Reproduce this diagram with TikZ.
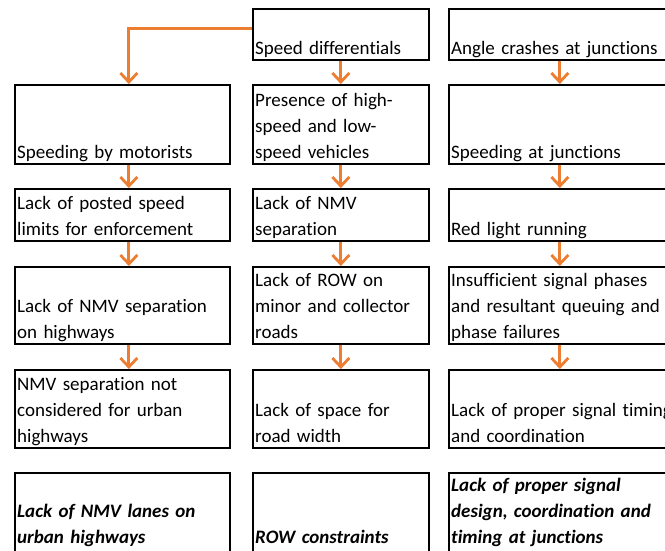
\documentclass[tikz,border=0pt]{standalone}
\usepackage{fontspec}
\setmainfont{Carlito}[Ligatures=NoCommon]
\usetikzlibrary{arrows.meta}

\begin{document}
\begin{tikzpicture}[
    x=1pt, y=-1pt,
    line cap=butt,
    cbox/.style={draw=black, line width=1.7pt, inner sep=0pt, anchor=north west},
    ctext/.style={inner sep=0pt, anchor=south west, text width=300pt, align=left,
        font=\fontsize{19}{25.8}\selectfont},
    flow/.style={draw=Flow, line width=2.8pt, -{Straight Barb[length=9pt,width=17pt]}},
]

\definecolor{Flow}{RGB}{237,125,49}

% ---------- macro: one cause box, text sits on the bottom edge ----------
% #1 = gap under the last baseline (optional), #2 = name, #3 = left x,
% #4 = top y, #5 = width, #6 = height, #7 = text
\newcommand{\cause}[7][6pt]{%
    \node[cbox, minimum width=#5, minimum height=#6] (#2) at (#3,#4) {};
    \node[ctext] (#2-t) at ([shift={(3pt,#1-7.74pt)}]#2.south west) {#7\strut};
}

\useasboundingbox (0,0) rectangle (665,550);
\clip (0,0) rectangle (665,550);

% column 1 : speeding / NMV lanes
\cause{spd}{14}{84}{215}{79}{Speeding by motorists}
\cause{post}{14}{188}{215}{52}{Lack of posted speed\\limits for enforcement}
\cause{nmvh}{14}{266}{215}{77}{Lack of NMV separation\\on highways}
\cause{urb}{14}{369}{215}{78}{NMV separation not\\considered for urban\\highways}
\cause[10pt]{lanes}{14}{472}{215}{80}{\textbf{\textit{Lack of NMV lanes on\\urban highways}}}

% column 2 : speed differentials / ROW
\cause{diff}{252}{8}{176}{51}{Speed differentials}
\cause{pres}{252}{84}{176}{79}{Presence of high-\\speed and low-\\speed vehicles}
\cause{nmvs}{252}{188}{176}{52}{Lack of NMV\\separation}
\cause{row}{252}{266}{176}{77}{Lack of ROW on\\minor and collector\\roads}
\cause{space}{252}{369}{176}{78}{Lack of space for\\road width}
\cause[10pt]{rowc}{252}{472}{176}{80}{\textbf{\textit{ROW constraints}}}

% column 3 : junctions (runs past the right edge)
\cause{angle}{448}{8}{222}{51}{Angle crashes at junctions}
\cause{junc}{448}{84}{222}{79}{Speeding at junctions}
\cause{red}{448}{188}{222}{52}{Red light running}
\cause{phase}{448}{266}{222}{77}{Insufficient signal phases\\and resultant queuing and\\phase failures}
\cause{timing}{448}{369}{222}{78}{Lack of proper signal timing\\and coordination}
\cause[10pt]{design}{448}{472}{222}{80}{\textbf{\textit{Lack of proper signal\\design, coordination and\\timing at junctions}}}

% arrows
\draw[flow] ([yshift=5.5pt]diff.west) -| ([xshift=6.5pt]spd.north);
\draw[flow] ([xshift=6.5pt]spd.south) -- ([xshift=6.5pt]post.north);
\draw[flow] ([xshift=6.5pt]post.south) -- ([xshift=6.5pt]nmvh.north);
\draw[flow] ([xshift=6.5pt]nmvh.south) -- ([xshift=6.5pt]urb.north);
\foreach \a/\b in {diff/pres, pres/nmvs, nmvs/row, row/space,
                   angle/junc, junc/red, red/phase, phase/timing}{
    \draw[flow] (\a.south) -- (\b.north);
}

\end{tikzpicture}
\end{document}
